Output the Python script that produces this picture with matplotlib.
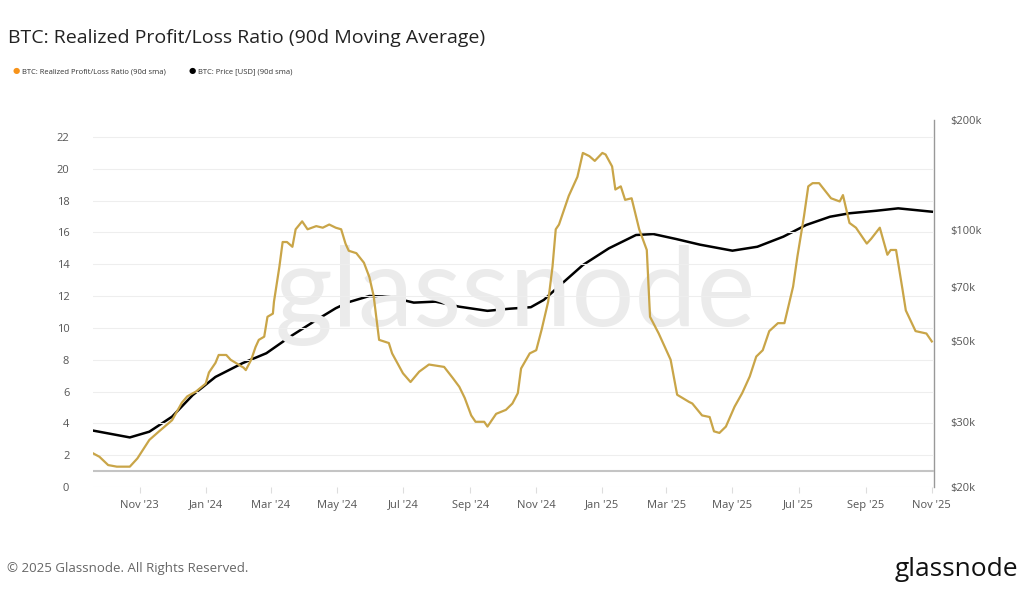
import pandas as pd
import matplotlib.pyplot as plt
import matplotlib.dates as mdates
from matplotlib.ticker import FixedLocator, NullLocator

# Realized profit/loss ratio (90d sma)
ratio_dates = [
    "2023-09-19", "2023-09-25", "2023-10-03", "2023-10-11", "2023-10-23", "2023-10-30",
    "2023-11-10", "2023-11-19", "2023-12-01", "2023-12-10", "2023-12-15", "2023-12-23",
    "2024-01-01", "2024-01-04", "2024-01-10", "2024-01-13", "2024-01-20", "2024-01-24",
    "2024-02-05", "2024-02-07", "2024-02-12", "2024-02-16", "2024-02-19", "2024-02-24",
    "2024-02-27", "2024-03-03", "2024-03-04", "2024-03-09", "2024-03-12", "2024-03-16",
    "2024-03-21", "2024-03-24", "2024-03-30", "2024-04-04", "2024-04-12", "2024-04-18",
    "2024-04-24", "2024-04-30", "2024-05-05", "2024-05-09", "2024-05-12", "2024-05-19",
    "2024-05-26", "2024-05-31", "2024-06-04", "2024-06-09", "2024-06-18", "2024-06-21",
    "2024-07-01", "2024-07-08", "2024-07-16", "2024-07-25", "2024-08-08", "2024-08-16",
    "2024-08-22", "2024-08-27", "2024-09-02", "2024-09-06", "2024-09-14", "2024-09-17",
    "2024-09-25", "2024-10-04", "2024-10-10", "2024-10-15", "2024-10-18", "2024-10-26",
    "2024-11-01", "2024-11-06", "2024-11-12", "2024-11-16", "2024-11-19", "2024-11-22",
    "2024-12-01", "2024-12-09", "2024-12-14", "2024-12-20", "2024-12-25", "2025-01-01",
    "2025-01-04", "2025-01-10", "2025-01-13", "2025-01-18", "2025-01-22", "2025-01-28",
    "2025-02-04", "2025-02-11", "2025-02-14", "2025-02-22", "2025-03-05", "2025-03-11",
    "2025-03-22", "2025-03-25", "2025-04-03", "2025-04-10", "2025-04-14", "2025-04-19",
    "2025-04-25", "2025-05-03", "2025-05-10", "2025-05-17", "2025-05-23", "2025-05-29",
    "2025-06-04", "2025-06-12", "2025-06-18", "2025-06-26", "2025-06-30", "2025-07-06",
    "2025-07-10", "2025-07-14", "2025-07-20", "2025-07-31", "2025-08-08", "2025-08-11",
    "2025-08-17", "2025-08-23", "2025-09-02", "2025-09-06", "2025-09-14", "2025-09-21",
    "2025-09-24", "2025-09-29", "2025-10-05", "2025-10-08", "2025-10-17", "2025-10-27",
    "2025-11-01",
]
ratio_values = [
    2.12, 1.9, 1.38, 1.28, 1.28, 1.8,
    2.96, 3.5, 4.2, 5.3, 5.7, 6.0,
    6.5, 7.2, 7.8, 8.3, 8.3, 8.0,
    7.5, 7.35, 8.0, 8.8, 9.25, 9.45,
    10.7, 10.9, 11.65, 13.85, 15.4, 15.4,
    15.1, 16.2, 16.7, 16.2, 16.4, 16.3,
    16.5, 16.3, 16.2, 15.3, 14.85, 14.7,
    14.1, 13.2, 12.0, 9.25, 9.05, 8.4,
    7.15, 6.6, 7.25, 7.7, 7.55, 6.85,
    6.3, 5.6, 4.5, 4.1, 4.1, 3.8,
    4.6, 4.85, 5.25, 5.9, 7.45, 8.4,
    8.6, 9.9, 11.65, 13.85, 16.2, 16.5,
    18.3, 19.5, 21.0, 20.8, 20.5, 21.0,
    20.9, 20.15, 18.7, 18.9, 18.05, 18.15,
    16.2, 14.9, 10.7, 9.65, 8.0, 5.8,
    5.35, 5.25, 4.5, 4.4, 3.5, 3.4,
    3.8, 5.05, 5.9, 6.95, 8.2, 8.6,
    9.8, 10.3, 10.3, 12.6, 14.5, 17.0,
    18.9, 19.1, 19.1, 18.15, 17.95, 18.35,
    16.6, 16.3, 15.3, 15.6, 16.3, 14.6,
    14.9, 14.9, 12.4, 11.1, 9.8, 9.65,
    9.15,
]

# BTC price (90d sma), USD
price_dates = [
    "2023-09-19", "2023-10-23", "2023-11-10", "2023-12-01", "2023-12-20", "2024-01-10",
    "2024-02-04", "2024-02-26", "2024-03-19", "2024-04-12", "2024-04-30", "2024-05-12",
    "2024-05-31", "2024-06-18", "2024-07-11", "2024-07-31", "2024-08-22", "2024-09-17",
    "2024-10-07", "2024-10-27", "2024-11-08", "2024-11-25", "2024-12-14", "2025-01-07",
    "2025-02-01", "2025-02-17", "2025-03-10", "2025-04-01", "2025-05-01", "2025-05-24",
    "2025-06-17", "2025-07-08", "2025-07-30", "2025-08-17", "2025-09-11", "2025-10-01",
    "2025-11-01",
]
price_values = [
    28500, 27300, 28300, 31100, 35600, 39900,
    43500, 46300, 51400, 57000, 61400, 63800,
    66300, 66000, 63600, 64000, 62000, 60400,
    61200, 61800, 64700, 71800, 80500, 89400,
    97200, 97800, 94800, 91500, 88100, 90300,
    96200, 103500, 109000, 111400, 113200, 114900,
    112500,
]

ratio_ticks = list(range(0, 23, 2))
price_ticks = [20000, 30000, 50000, 70000, 100000, 200000]
price_labels = ["$20k", "$30k", "$50k", "$70k", "$100k", "$200k"]

plt.rcParams['font.family'] = ['Open Sans', 'DejaVu Sans']

ratio_x = pd.to_datetime(ratio_dates)
price_x = pd.to_datetime(price_dates)

fig = plt.figure(figsize=(10.24, 6), dpi=100)
ax = fig.add_axes([0.0908, 0.1883, 0.8213, 0.6117])
ax2 = ax.twinx()

# watermark
fig.text(0.503, 0.508, "glassnode", fontsize=80, color='#ebebeb',
         ha='center', va='center', family='Lato', zorder=0)

ax2.plot(price_x, price_values, color='black', lw=1.8)
ax2.set_yscale('log')
ax2.set_ylim(20000, 200000)
ax2.yaxis.set_major_locator(FixedLocator(price_ticks))
ax2.yaxis.set_minor_locator(NullLocator())
ax2.set_yticklabels(price_labels)

ax.axhline(1, color='#c4c4c4', lw=1.5, zorder=1)
ax.plot(ratio_x, ratio_values, color='#c9a548', lw=1.6, zorder=3)
ax.set_ylim(0, 23.07)
ax.set_yticks(ratio_ticks)
ax.grid(axis='y', color='#eeeeee', lw=0.8)
ax.set_zorder(ax2.get_zorder() + 1)
ax.patch.set_visible(False)

ax.set_xlim(pd.Timestamp("2023-09-19"), pd.Timestamp("2025-11-03"))
ax.xaxis.set_major_locator(mdates.MonthLocator(bymonth=[1, 3, 5, 7, 9, 11]))
ax.xaxis.set_major_formatter(mdates.DateFormatter("%b '%y"))

for a in (ax, ax2):
    for s in ('top', 'left', 'bottom', 'right'):
        a.spines[s].set_visible(False)
ax2.spines['right'].set_visible(True)
ax2.spines['right'].set_color('#999999')
ax2.spines['right'].set_linewidth(1.0)

ax.tick_params(axis='y', length=0, labelsize=8, labelcolor='#555555', pad=17)
ax.tick_params(axis='x', length=4, color='#dddddd', labelsize=8, labelcolor='#555555', pad=5)
ax2.tick_params(axis='y', length=0, labelsize=8, labelcolor='#555555', pad=12)

fig.text(0.008, 0.937, "BTC: Realized Profit/Loss Ratio (90d Moving Average)",
         fontsize=14, color='#222222', va='center')

# legend
fig.text(0.012, 0.880, "●", fontsize=6, color='#f7931a', va='center')
fig.text(0.021, 0.880, "BTC: Realized Profit/Loss Ratio (90d sma)", fontsize=5.5,
         color='#333333', va='center')
fig.text(0.184, 0.880, "●", fontsize=6, color='black', va='center')
fig.text(0.193, 0.880, "BTC: Price [USD] (90d sma)", fontsize=5.5,
         color='#333333', va='center')

fig.text(0.007, 0.053, "© 2025 Glassnode. All Rights Reserved.", fontsize=9.5,
         color='#666666', va='center')
fig.text(0.994, 0.050, "glassnode", fontsize=19, color='#111111',
         ha='right', va='center')

fig.savefig("out.png", dpi=100)
